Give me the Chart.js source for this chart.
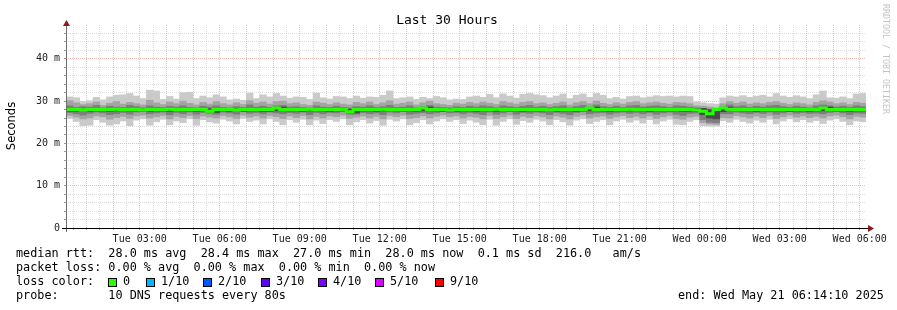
<!DOCTYPE html>
<html>
<head>
<meta charset="utf-8">
<script src="https://cdn.jsdelivr.net/npm/chart.js@4.4.1/dist/chart.umd.min.js"></script>
<style>
  body { margin: 0; background: #fff; }
  #wrap { position: relative; width: 897px; height: 310px; overflow: hidden; font-family: "DejaVu Sans Mono", monospace; color: #000; }
  canvas { position: absolute; left: 0; top: 0; }
  .txt { position: absolute; white-space: pre; font-size: 11.8px; line-height: 11.8px; }
  .box { position: absolute; width: 7px; height: 7px; border: 1px solid #000; }
  #title { position: absolute; left: 0; width: 894px; top: 13px; text-align: center; font-size: 13px; line-height: 13px; }
  #ylabel { position: absolute; left: -24px; top: 119px; width: 70px; text-align: center; font-family: "DejaVu Sans", sans-serif; font-size: 11.5px; line-height: 14px; transform: rotate(-90deg); }
  #stamp { position: absolute; left: 881px; top: 4px; writing-mode: vertical-rl; font-size: 8.3px; color: #c4c4c4; }
</style>
</head>
<body>
<div id="wrap">
  <canvas id="chart" width="897" height="310"></canvas>
  <div id="title">Last 30 Hours</div>
  <div id="ylabel">Seconds</div>
  <div id="stamp">RRDTOOL / TOBI OETIKER</div>
  <div class="txt" style="left:16px; top:248px">median rtt:  28.0 ms avg  28.4 ms max  27.0 ms min  28.0 ms now  0.1 ms sd  216.0   am/s</div>
  <div class="txt" style="left:16px; top:262px">packet loss: 0.00 % avg  0.00 % max  0.00 % min  0.00 % now</div>
  <div class="txt" style="left:16px; top:276px">loss color:</div>
  <div class="txt" style="left:16px; top:290px">probe:       10 DNS requests every 80s</div>
  <div class="txt" style="left:678px; top:290px">end: Wed May 21 06:14:10 2025</div>
</div>
<script>
// time axis: hours since Tue 00:00, window of 30 hours ending Wed 06:14:10
const windowStart = 14 / 60 + 10 / 3600;
const windowEnd = windowStart + 30;
const firstSlot = 0.25;   // first 15 min slot starts Tue 00:15
const slotLen = 0.25;

// smoke bands in ms (outer = lightest)
const outerHi = [31.0, 30.8, 29.9, 30.1, 30.9, 30.3, 31.0, 31.4, 31.5, 31.8,
  31.2, 30.6, 32.6, 32.4, 30.4, 31.1, 30.5, 32.0, 32.1, 30.6,
  31.2, 30.8, 31.5, 31.0, 30.3, 30.5, 30.2, 31.9, 30.6, 31.5,
  31.0, 31.8, 31.2, 30.7, 31.0, 30.9, 30.4, 31.9, 30.8, 30.5,
  31.1, 31.0, 30.6, 31.2, 30.7, 31.0, 30.9, 31.4, 32.4, 30.6,
  30.8, 31.0, 30.4, 30.9, 30.6, 31.1, 30.8, 30.3, 30.5, 30.4,
  31.0, 31.2, 30.9, 31.6, 30.8, 31.7, 31.2, 30.7, 31.6, 31.8,
  31.5, 31.3, 30.8, 31.2, 31.7, 30.6, 31.4, 31.7, 30.9, 31.8,
  31.4, 30.6, 30.9, 30.5, 31.1, 31.2, 30.8, 31.0, 31.3, 31.1,
  31.2, 31.0, 31.2, 31.1, 29.8, 29.6, 29.4, 29.3, 30.8, 31.2,
  31.0, 31.3, 30.9, 31.2, 31.4, 31.0, 31.8, 31.2, 30.9, 31.3,
  31.0, 30.6, 31.5, 32.4, 30.8, 30.7, 31.0, 30.6, 31.7, 31.8];
const outerLo = [25.9, 25.2, 24.2, 24.3, 25.6, 25.0, 24.3, 24.6, 25.3, 24.2,
  25.5, 25.8, 24.3, 25.1, 25.7, 24.4, 25.3, 24.9, 25.8, 24.3,
  25.6, 25.1, 24.8, 25.7, 25.3, 24.6, 25.9, 25.2, 25.5, 24.6,
  25.8, 25.2, 24.4, 25.6, 25.0, 25.7, 24.4, 25.5, 24.7, 25.6,
  25.2, 25.8, 24.4, 25.1, 25.6, 24.8, 25.4, 24.3, 25.7, 25.3,
  25.8, 24.4, 24.9, 25.6, 24.6, 25.3, 25.8, 25.2, 25.6, 24.7,
  25.5, 25.0, 24.4, 25.7, 24.3, 25.2, 25.8, 24.5, 25.4, 25.0,
  25.7, 25.3, 24.4, 25.6, 25.1, 24.3, 25.5, 25.8, 24.7, 25.2,
  25.6, 24.4, 25.3, 25.7, 25.0, 25.5, 24.8, 25.6, 24.6, 25.3,
  25.7, 24.5, 24.4, 25.2, 25.6, 24.2, 24.1, 24.1, 25.4, 25.0,
  25.7, 25.2, 24.8, 25.5, 25.0, 25.7, 24.6, 25.3, 25.8, 25.1,
  25.6, 25.0, 25.4, 24.7, 25.5, 25.8, 25.2, 24.4, 25.3, 25.1];
const midHi = [30.1, 29.6, 29.2, 29.4, 29.8, 29.0, 29.5, 29.9, 29.3, 29.7,
  29.4, 29.1, 30.2, 29.6, 29.2, 29.8, 29.4, 30.0, 29.5, 29.1,
  29.7, 29.3, 29.9, 29.4, 29.1, 29.6, 29.2, 30.1, 29.5, 29.8,
  29.3, 29.9, 30.0, 29.4, 29.6, 29.2, 29.0, 29.8, 29.5, 29.2,
  29.6, 29.3, 29.1, 29.7, 29.4, 29.8, 29.2, 29.6, 30.1, 29.3,
  29.5, 29.8, 29.1, 29.6, 30.0, 29.4, 29.2, 29.0, 29.5, 29.3,
  29.7, 29.4, 29.8, 29.5, 29.2, 29.9, 29.6, 29.3, 29.7, 29.9,
  29.4, 29.6, 29.2, 29.5, 29.8, 29.1, 29.6, 29.9, 29.4, 30.0,
  29.5, 29.2, 29.6, 29.3, 29.7, 29.9, 29.4, 29.6, 29.8, 29.5,
  29.3, 29.7, 29.6, 29.4, 28.9, 28.8, 28.6, 28.4, 29.4, 29.9,
  29.5, 29.8, 29.3, 29.6, 29.4, 29.7, 29.9, 29.5, 29.2, 29.6,
  29.4, 29.1, 29.7, 30.1, 29.8, 29.4, 29.6, 29.2, 29.7, 29.5];
const midLo = [26.6, 26.2, 25.8, 26.0, 26.5, 26.3, 25.7, 26.1, 26.4, 25.9,
  26.5, 26.7, 26.0, 26.3, 26.6, 25.8, 26.4, 26.1, 26.6, 25.9,
  26.5, 26.2, 26.0, 26.6, 26.3, 25.9, 26.7, 26.2, 26.5, 26.0,
  26.6, 26.3, 25.9, 26.5, 26.1, 26.6, 25.8, 26.4, 26.0, 26.5,
  26.3, 26.7, 25.9, 26.2, 26.5, 26.0, 26.4, 25.8, 26.6, 26.3,
  26.7, 25.9, 26.1, 26.5, 26.0, 26.4, 26.7, 26.3, 26.5, 26.0,
  26.4, 26.2, 25.8, 26.6, 25.9, 26.3, 26.7, 25.9, 26.4, 26.1,
  26.6, 26.3, 25.8, 26.5, 26.2, 25.8, 26.4, 26.7, 26.0, 26.3,
  26.5, 25.9, 26.3, 26.6, 26.1, 26.4, 26.0, 26.5, 25.9, 26.3,
  26.6, 25.9, 25.7, 26.2, 26.4, 24.9, 24.6, 24.5, 26.1, 26.0,
  26.6, 26.3, 26.0, 26.5, 26.1, 26.6, 25.9, 26.3, 26.7, 26.2,
  26.5, 26.1, 26.4, 26.0, 26.5, 26.7, 26.3, 25.8, 26.4, 26.2];
const innerHi = [28.9, 28.5, 28.7, 28.6, 29.0, 28.4, 28.8, 28.6, 28.5, 29.0,
  28.7, 28.4, 28.9, 28.6, 28.5, 28.8, 28.6, 28.9, 28.5, 28.4,
  28.8, 28.6, 28.9, 28.5, 28.4, 28.7, 28.5, 29.1, 28.6, 28.8,
  28.5, 28.9, 29.0, 28.6, 28.7, 28.5, 28.4, 28.9, 28.6, 28.5,
  28.8, 28.5, 28.4, 28.7, 28.6, 28.9, 28.5, 28.7, 29.0, 28.5,
  28.6, 28.9, 28.4, 28.7, 29.0, 28.6, 28.5, 28.4, 28.7, 28.5,
  28.8, 28.6, 28.9, 28.7, 28.5, 28.9, 28.7, 28.5, 28.8, 29.0,
  28.6, 28.8, 28.5, 28.7, 28.9, 28.4, 28.7, 29.0, 28.6, 29.1,
  28.7, 28.5, 28.8, 28.5, 28.9, 29.0, 28.6, 28.8, 28.9, 28.7,
  28.5, 28.9, 28.8, 28.6, 28.4, 28.3, 28.1, 27.9, 28.6, 29.1,
  28.7, 28.9, 28.5, 28.8, 28.6, 28.9, 29.0, 28.7, 28.5, 28.8,
  28.6, 28.4, 28.9, 29.1, 28.9, 28.6, 28.8, 28.5, 28.9, 28.7];
const innerLo = [27.3, 27.0, 26.7, 27.1, 27.4, 27.2, 26.8, 27.0, 27.3, 26.9,
  27.4, 27.5, 27.0, 27.2, 27.4, 26.8, 27.3, 27.0, 27.4, 26.9,
  27.3, 27.1, 26.9, 27.4, 27.2, 26.9, 27.5, 27.1, 27.3, 27.0,
  27.4, 27.2, 27.0, 27.3, 27.1, 27.4, 26.8, 27.3, 27.0, 27.3,
  27.2, 27.5, 26.9, 26.9, 27.3, 27.0, 27.2, 26.8, 27.4, 27.2,
  27.5, 26.9, 27.1, 27.3, 27.0, 27.2, 27.5, 27.2, 27.3, 27.0,
  27.3, 27.1, 26.8, 27.4, 26.9, 27.2, 27.5, 26.9, 27.3, 27.1,
  27.4, 27.2, 26.8, 27.3, 27.1, 26.8, 27.3, 27.5, 27.0, 27.2,
  27.3, 26.9, 27.2, 27.4, 27.1, 27.3, 27.0, 27.3, 26.9, 27.2,
  27.4, 26.9, 26.6, 27.1, 27.2, 25.6, 25.0, 24.9, 27.0, 27.0,
  27.4, 27.2, 27.0, 27.3, 27.1, 27.4, 26.9, 27.2, 27.5, 27.1,
  27.3, 27.1, 27.2, 27.0, 27.3, 27.5, 27.2, 26.8, 27.2, 27.1];
const coreHi = [28.2, 28.2, 28.1, 28.1, 28.2, 28.2, 28.1, 28.2, 28.3, 28.2,
  28.2, 28.1, 28.1, 28.2, 28.2, 28.1, 28.3, 28.2, 28.2, 28.1,
  28.2, 28.2, 27.8, 28.2, 28.1, 28.2, 28.1, 28.3, 28.2, 28.2,
  28.1, 28.2, 28.6, 28.2, 28.2, 28.1, 28.2, 28.3, 28.2, 28.1,
  28.2, 28.2, 28.1, 27.7, 28.2, 28.2, 28.1, 28.2, 28.3, 28.2,
  28.2, 28.2, 28.1, 28.2, 28.6, 28.2, 28.1, 28.2, 28.1, 28.2,
  28.2, 28.1, 28.2, 28.2, 28.1, 28.3, 28.2, 28.2, 28.1, 28.2,
  28.2, 28.2, 28.1, 28.1, 28.2, 28.2, 28.1, 28.2, 28.2, 28.6,
  28.2, 28.1, 28.2, 28.2, 28.2, 28.3, 28.2, 28.1, 28.2, 28.2,
  28.2, 28.2, 28.2, 28.1, 28.2, 28.3, 28.0, 27.6, 28.2, 28.6,
  28.3, 28.2, 28.2, 28.1, 28.2, 28.2, 28.2, 28.2, 28.1, 28.2,
  28.2, 28.1, 28.2, 28.2, 28.6, 28.2, 28.2, 28.1, 28.2, 28.2];
const coreLo = [27.6, 27.6, 27.7, 27.6, 27.7, 27.7, 27.6, 27.7, 27.8, 27.7,
  27.7, 27.6, 27.6, 27.7, 27.7, 27.6, 27.8, 27.7, 27.7, 27.6,
  27.7, 27.7, 27.3, 27.7, 27.6, 27.7, 27.6, 27.7, 27.7, 27.6,
  27.6, 27.7, 28.1, 27.7, 27.7, 27.6, 27.7, 27.8, 27.7, 27.6,
  27.7, 27.7, 27.6, 27.2, 27.7, 27.7, 27.6, 27.7, 27.8, 27.7,
  27.7, 27.7, 27.6, 27.7, 28.1, 27.7, 27.6, 27.7, 27.6, 27.7,
  27.7, 27.6, 27.7, 27.7, 27.6, 27.8, 27.7, 27.7, 27.6, 27.7,
  27.7, 27.7, 27.6, 27.6, 27.7, 27.7, 27.6, 27.7, 27.7, 28.1,
  27.7, 27.6, 27.7, 27.7, 27.7, 27.8, 27.7, 27.6, 27.7, 27.7,
  27.7, 27.7, 27.6, 27.6, 27.5, 26.8, 26.0, 25.8, 27.5, 28.1,
  27.8, 27.7, 27.7, 27.6, 27.7, 27.7, 27.7, 27.7, 27.6, 27.7,
  27.7, 27.6, 27.7, 27.7, 28.1, 27.7, 27.7, 27.6, 27.7, 27.7];
const median = [28.0, 28.0, 28.0, 27.9, 28.0, 28.0, 28.0, 28.0, 28.1, 28.0,
  28.0, 28.0, 27.9, 28.0, 28.0, 28.0, 28.1, 28.0, 28.0, 28.0,
  28.0, 28.0, 27.6, 28.0, 28.0, 28.0, 27.9, 28.0, 28.0, 28.0,
  28.0, 28.0, 28.4, 28.0, 28.0, 28.0, 28.0, 28.1, 28.0, 28.0,
  28.0, 28.0, 28.0, 27.5, 28.0, 28.0, 28.0, 28.0, 28.1, 28.0,
  28.0, 28.0, 28.0, 28.0, 28.4, 28.0, 28.0, 28.0, 27.9, 28.0,
  28.0, 28.0, 28.0, 28.0, 28.0, 28.1, 28.0, 28.0, 28.0, 28.0,
  28.0, 28.0, 28.0, 27.9, 28.0, 28.0, 28.0, 28.0, 28.0, 28.4,
  28.0, 28.0, 28.0, 28.0, 28.0, 28.1, 28.0, 28.0, 28.0, 28.0,
  28.0, 28.0, 28.0, 28.0, 28.0, 27.9, 27.6, 27.0, 28.0, 28.4,
  28.1, 28.0, 28.0, 28.0, 28.0, 28.0, 28.0, 28.0, 28.0, 28.0,
  28.0, 28.0, 28.0, 28.0, 28.4, 28.0, 28.0, 28.0, 28.0, 28.0];

// loss legend
const lossLabels = ['0', '1/10', '2/10', '3/10', '4/10', '5/10', '9/10'];
const lossColors = ['#26ff00', '#00b8ff', '#0059ff', '#5e00ff', '#7e00ff', '#dd00ff', '#ff0000'];
const lossBoxX = [108, 146, 203, 261, 318, 375, 435];

const wrap = document.getElementById('wrap');
lossLabels.forEach((lab, i) => {
    const b = document.createElement('div');
    b.className = 'box';
    b.style.left = lossBoxX[i] + 'px';
    b.style.top = '278px';
    b.style.background = lossColors[i];
    wrap.appendChild(b);
    const t = document.createElement('div');
    t.className = 'txt';
    t.style.left = (lossBoxX[i] + 15) + 'px';
    t.style.top = '276px';
    t.textContent = lab;
    wrap.appendChild(t);
});

const slotMid = median.map((_, i) => firstSlot + slotLen * (i + 0.5));
const band = (lo, hi) => lo.map((v, i) => ({ x: slotMid[i], y: [v, hi[i]] }));
// step line points at slot starts, closed at the end of the last slot
const medPts = median.map((v, i) => ({ x: firstSlot + slotLen * i, y: v }));
medPts.push({ x: firstSlot + slotLen * median.length, y: median[median.length - 1] });

function barSet(lo, hi, color, order) {
    return {
        type: 'bar', data: band(lo, hi), backgroundColor: color, borderWidth: 0,
        barPercentage: 1, categoryPercentage: 1, grouped: false, order: order
    };
}

function hourLabel(h) {
    const day = h < 24 ? 'Tue' : 'Wed';
    const hh = String(h % 24).padStart(2, '0');
    return day + ' ' + hh + ':00';
}

const gridGrey = 'rgba(180,180,180,0.45)';
const gridRed = 'rgba(235,120,120,0.5)';
const clear = 'rgba(0,0,0,0)';
const tickVal = c => (c && c.tick ? c.tick.value : null);

const axesPlugin = {
    id: 'rrdAxes',
    afterDraw(chart) {
        const { ctx, chartArea: a } = chart;
        ctx.save();
        ctx.lineWidth = 1;
        ctx.strokeStyle = '#6e6e6e';
        ctx.beginPath();
        ctx.moveTo(a.left + 0.5, a.bottom + 4);
        ctx.lineTo(a.left + 0.5, a.top - 3);
        ctx.stroke();
        ctx.strokeStyle = '#000';
        ctx.beginPath();
        ctx.moveTo(a.left - 4, a.bottom + 0.5);
        ctx.lineTo(a.right + 3, a.bottom + 0.5);
        ctx.stroke();
        ctx.fillStyle = '#8b1a1a';
        ctx.beginPath();
        ctx.moveTo(a.left + 0.5, a.top - 5);
        ctx.lineTo(a.left - 3, a.top + 1);
        ctx.lineTo(a.left + 4, a.top + 1);
        ctx.fill();
        ctx.beginPath();
        ctx.moveTo(a.right + 8, a.bottom + 0.5);
        ctx.lineTo(a.right + 2, a.bottom - 3);
        ctx.lineTo(a.right + 2, a.bottom + 4);
        ctx.fill();
        ctx.restore();
    }
};

new Chart(document.getElementById('chart'), {
    data: {
        datasets: [
            { type: 'line', data: medPts, borderColor: '#26ff00', borderWidth: 3, pointRadius: 0, stepped: 'after', order: 0 },
            barSet(coreLo, coreHi, '#4a4a4a', 1),
            barSet(innerLo, innerHi, '#7e7e7e', 2),
            barSet(midLo, midHi, '#a4a4a4', 3),
            barSet(outerLo, outerHi, '#cacaca', 4)
        ]
    },
    options: {
        responsive: false,
        devicePixelRatio: 1,
        animation: false,
        events: [],
        layout: { padding: { left: 0, top: 25, right: 31, bottom: 62 } },
        plugins: { legend: { display: false }, tooltip: { enabled: false } },
        scales: {
            x: {
                type: 'linear', min: windowStart, max: windowEnd, z: 1, offset: false,
                afterBuildTicks: s => {
                    const t = [];
                    for (let h = 0.5; h <= 30; h += 0.5) t.push({ value: h });
                    s.ticks = t;
                },
                afterFit: s => { s.height = 20; },
                border: { display: false, dash: [1, 1] },
                grid: {
                    offset: false,
                    color: c => {
                        const v = tickVal(c);
                        return v === null ? clear : (Number.isInteger(v) ? gridRed : gridGrey);
                    },
                    tickColor: '#999', tickLength: 2
                },
                ticks: {
                    autoSkip: false, maxRotation: 0, padding: 3, color: '#222',
                    font: { family: 'DejaVu Sans Mono', size: 10 },
                    callback: v => (v % 3 === 0 ? hourLabel(v) : '')
                }
            },
            y: {
                min: 0, max: 48, z: 1,
                afterBuildTicks: s => {
                    const t = [];
                    for (let v = 0; v <= 48; v += 2) t.push({ value: v });
                    s.ticks = t;
                },
                afterFit: s => { s.width = 66; },
                border: { display: false, dash: [1, 1] },
                grid: {
                    color: c => {
                        const v = tickVal(c);
                        if (v === null || v === 0 || v === 48) return clear;
                        return v % 10 === 0 ? gridRed : gridGrey;
                    },
                    tickColor: c => (tickVal(c) === 48 ? clear : '#999'), tickLength: 2
                },
                ticks: {
                    autoSkip: false, padding: 4, color: '#222',
                    font: { family: 'DejaVu Sans Mono', size: 10 },
                    callback: v => (v % 10 === 0 ? (v === 0 ? '0' : v + ' m') : '')
                }
            }
        }
    },
    plugins: [axesPlugin]
});
</script>
</body>
</html>
